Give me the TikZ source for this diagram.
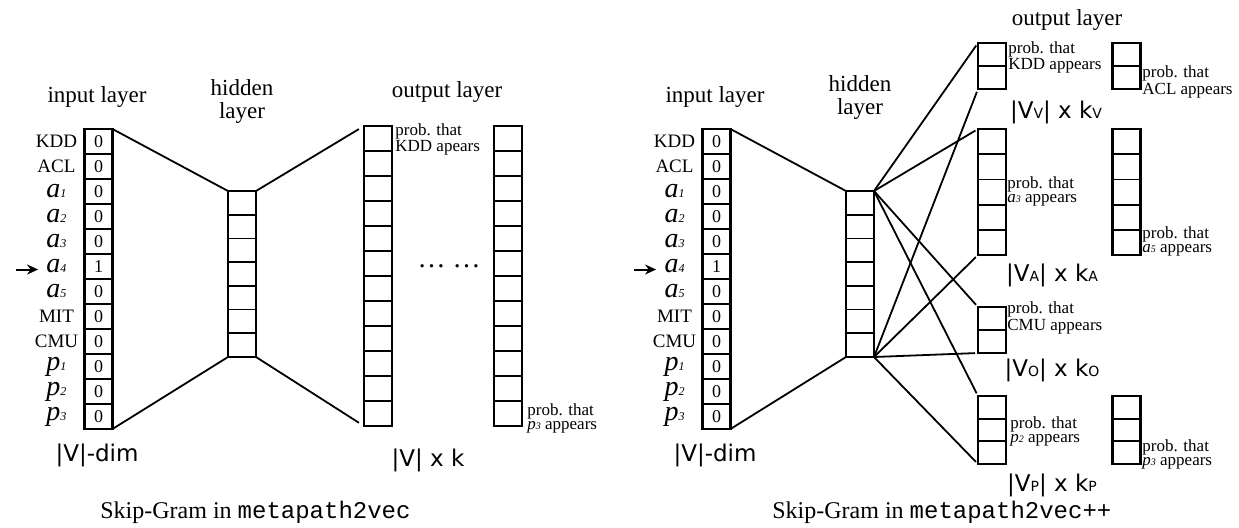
\documentclass[tikz,border=0pt]{standalone}
\usepackage{fontspec}
\setmainfont{Liberation Serif}
\setsansfont{DejaVu Sans}
\setmonofont{Liberation Mono}
\usetikzlibrary{%
  arrows.meta%
}

% word labels with a tiny index
\newcommand\rowent[2]{{\fontsize{14}{14}\selectfont\itshape #1}{\fontsize{6}{6}\selectfont\itshape #2}}
\newcommand\probent[2]{{\itshape #1}{\fontsize{5}{5}\selectfont\itshape #2}}
\newcommand\typesub[1]{{\fontsize{7}{7}\selectfont #1}}
% dividing lines of a column: node, lines, step
\newcommand\splitcol[3]{%
  \foreach \k in {1,...,#2}
    \draw[cellline] ([yshift=-\k*#3]#1.north west) -- ([yshift=-\k*#3]#1.north east);}

\tikzset{
  layer/.style={draw, line width=1.3pt, inner sep=0pt, outer sep=0pt, minimum width=14pt},
  cellline/.style={line width=0.9pt},
  link/.style={line width=0.9pt},
  inarrow/.style={line width=1pt, -{Stealth[length=5.5pt,width=5pt]}, shorten >=4pt},
  title/.style={font=\fontsize{11.5}{11.5}\selectfont, align=center},
  rowlab/.style={font=\fontsize{9.5}{10}\selectfont, inner sep=0pt},
  cellnum/.style={font=\fontsize{9}{9}\selectfont, inner sep=0pt},
  prob/.style={font=\fontsize{8.5}{7.3}\selectfont, align=left, inner sep=0pt, anchor=north west},
  dimlab/.style={font=\sffamily\fontsize{11.5}{12}\selectfont},
  caption/.style={font=\fontsize{12}{14}\selectfont, inner sep=0pt, anchor=base west}
}

\begin{document}
\begin{tikzpicture}[x=0.5pt, y=-0.5pt]
  \useasboundingbox (0,0) rectangle (1239,527);

  % input and hidden layer, both models
  \foreach \s/\dx/\dy in {L/0/0,R/618/-4} {
    \node[title] (tin\s) at (97+\dx,97) {input layer};
    \node[title] (thid\s) at (242+\dx,101+\dy) {hidden\\layer};

    \node[layer, minimum height=150pt] (in\s) at (98.5+\dx,279) {};
    \splitcol{in\s}{11}{12.5pt}
    \foreach \v [count=\i] in {0,0,0,0,0,1,0,0,0,0,0,0}
      \node[cellnum] (in\s-\i) at ([yshift=-\i*12.5pt+6.25pt]in\s.north) {\v};
    \foreach \l [count=\i] in {KDD,ACL,\rowent{a}{1},\rowent{a}{2},\rowent{a}{3},\rowent{a}{4},
        \rowent{a}{5},MIT,CMU,\rowent{p}{1},\rowent{p}{2},\rowent{p}{3}}
      \node[rowlab] (lab\s-\i) at ([xshift=-14pt,yshift=-\i*12.5pt+6.25pt]in\s.north west) {\l};

    \coordinate (arr\s) at ([xshift=-15pt,yshift=-1.5pt]lab\s-6.west);
    \draw[inarrow] (arr\s) -- (arr\s -| lab\s-6.west);

    \node[dimlab] (dim\s) at (97+\dx,455) {|V|-dim};

    \node[layer, minimum height=83pt] (hid\s) at (242+\dx,274) {};
    \splitcol{hid\s}{6}{11.857pt}

    \draw[link] (in\s.north east) -- (hid\s.north west);
    \draw[link] (in\s.south east) -- (hid\s.south west);
  }

  % metapath2vec output
  \node[title] (toutL) at (447,92) {output layer};
  \node[layer, minimum height=150pt] (outL1) at (378,276) {};
  \node[layer, minimum height=150pt] (outL2) at (508,276) {};
  \splitcol{outL1}{11}{12.5pt}
  \splitcol{outL2}{11}{12.5pt}
  \node[font=\fontsize{14}{14}\selectfont] (dotsL) at (449,266) {\ldots\ \ldots};
  \node[prob] (pkdd) at (395,123) {prob. that\\KDD apears};
  \node[prob] (pthreeL) at (527,403) {prob. that\\\probent{p}{3} appears};
  \node[dimlab] (kL) at (428,460) {|V| x k};

  \draw[link, shorten >=3pt] (hidL.north east) -- (outL1.north west);
  \draw[link, shorten >=3pt] (hidL.south east) -- (outL1.south west);

  % metapath2vec++ output, one block per type
  \node[title] (toutR) at (1067,20) {output layer};

  \node[layer, minimum height=23pt] (oV1) at (992,66) {};
  \node[layer, minimum height=23pt] (oV2) at (1126.5,66) {};
  \splitcol{oV1}{1}{11.5pt}
  \splitcol{oV2}{1}{11.5pt}
  \node[prob] (pkddR) at (1008,41) {prob. that\\KDD appears};
  \node[prob] (pacl) at (1142,65) {prob. that\\ACL appears};
  \node[dimlab] (kV) at (1056,112) {|V\typesub{V}| x k\typesub{V}};

  \node[layer, minimum height=63pt] (oA1) at (992,192) {};
  \node[layer, minimum height=63pt] (oA2) at (1126.5,192) {};
  \splitcol{oA1}{4}{12.6pt}
  \splitcol{oA2}{4}{12.6pt}
  \node[prob] (pathree) at (1007,176) {prob. that\\\probent{a}{3} appears};
  \node[prob] (pafive) at (1142,226) {prob. that\\\probent{a}{5} appears};
  \node[dimlab] (kA) at (1052,275) {|V\typesub{A}| x k\typesub{A}};

  \node[layer, minimum height=23pt] (oO1) at (992,330) {};
  \splitcol{oO1}{1}{11.5pt}
  \node[prob] (pcmu) at (1007,301) {prob. that\\CMU appears};
  \node[dimlab] (kO) at (1052,370) {|V\typesub{O}| x k\typesub{O}};

  \node[layer, minimum height=34pt] (oP1) at (992,430) {};
  \node[layer, minimum height=34pt] (oP2) at (1126.5,430) {};
  \splitcol{oP1}{2}{11.333pt}
  \splitcol{oP2}{2}{11.333pt}
  \node[prob] (ptwo) at (1010,416) {prob. that\\\probent{p}{2} appears};
  \node[prob] (pthreeR) at (1142,439) {prob. that\\\probent{p}{3} appears};
  \node[dimlab] (kP) at (1052,485) {|V\typesub{P}| x k\typesub{P}};

  \foreach \t in {oV1,oA1,oO1,oP1} {
    \draw[link, shorten >=1.5pt] (hidR.north east) -- (\t.north west);
    \draw[link, shorten >=1.5pt] (hidR.south east) -- (\t.south west);
  }

  % captions
  \node[caption] (capL) at (100,518) {Skip-Gram in {\ttfamily\fontsize{12}{14}\selectfont metapath2vec}};
  \node[caption] (capR) at (772,518) {Skip-Gram in {\ttfamily\fontsize{12}{14}\selectfont metapath2vec++}};
\end{tikzpicture}
\end{document}
